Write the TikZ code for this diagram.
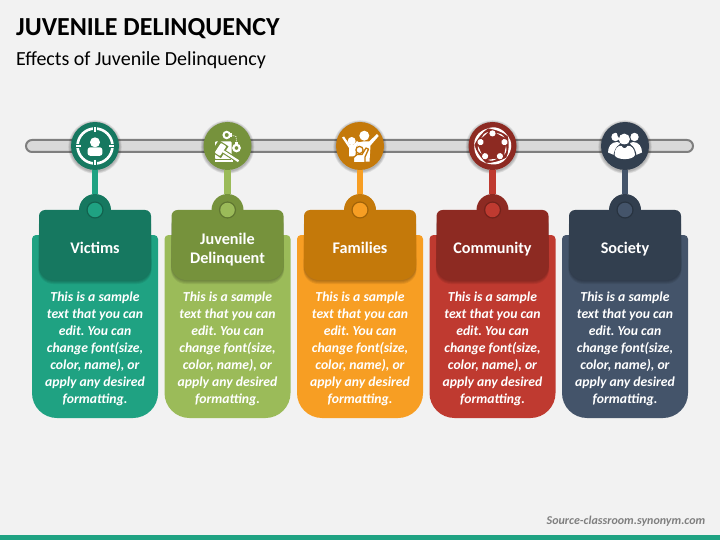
\documentclass[tikz,border=0pt]{standalone}
\usepackage{fontspec}
\setmainfont{Carlito}
\definecolor{pagebg}{HTML}{F2F2F2}
\definecolor{barfill}{HTML}{D9D9D9}
\definecolor{barline}{HTML}{7F7F7F}
\definecolor{tealL}{HTML}{1FA282}
\definecolor{tealD}{HTML}{167860}
\definecolor{greenL}{HTML}{9BBB59}
\definecolor{greenD}{HTML}{76923C}
\definecolor{orangeL}{HTML}{F79E23}
\definecolor{orangeD}{HTML}{C4790A}
\definecolor{redL}{HTML}{BF3A30}
\definecolor{redD}{HTML}{8D2A22}
\definecolor{navyL}{HTML}{44546A}
\definecolor{navyD}{HTML}{323F4F}
\tikzset{
  hubnode/.style={circle,minimum size=48pt,inner sep=0pt},
  bumpnode/.style={circle,minimum size=32pt,inner sep=0pt},
  dotnode/.style={circle,minimum size=14.5pt,inner sep=0pt},
  labelnode/.style={text=white,font=\fontsize{16.2}{19}\selectfont\bfseries,align=center,inner sep=0pt},
  bodynode/.style={text=white,font=\fontsize{13.7}{16.9}\selectfont\itshape\bfseries\frenchspacing,align=center,inner sep=0pt},
  stemline/.style={line width=6.5pt},
  ico/.style={fill=white,draw=none},
}
\newcommand{\softshadow}[3]{% radius, centre x, centre y
  \foreach \k in {4,3,2,1}{\fill[black,opacity=0.07] (#2,#3+1) circle[radius=#1+\k*0.7];}
}
\newcommand{\cardblock}[6]{% id, cx, light, dark, label, icon
  \softshadow{24}{#2}{146}
  \node[hubnode,fill=#4] (hub#1) at (#2,146) {};
  \fill[#3,rounded corners=4pt] (#2-63,235) -- (#2+63,235) [rounded corners=25pt] -- (#2+63,418) -- (#2-63,418) [rounded corners=4pt] -- cycle;
  \node[bumpnode,fill=#4] (bump#1) at (#2,210) {};
  \foreach \k in {4,3,2,1}{\fill[black,opacity=0.07,rounded corners=6pt] (#2-56,218) -- (#2+56,218) [rounded corners=15pt] -- (#2+56+\k*0.2,280+\k) -- (#2-56-\k*0.2,280+\k) [rounded corners=6pt] -- cycle;}
  \fill[#4,rounded corners=6pt] (#2-56,210) -- (#2+56,210) [rounded corners=15pt] -- (#2+56,280) -- (#2-56,280) [rounded corners=6pt] -- cycle;
  \draw[stemline,#3] (hub#1.south) -- (bump#1.north);
  \fill[black,opacity=0.18] (#2,210) circle[radius=8.6];
  \node[dotnode,fill=#3] (dot#1) at (#2,210) {};
  \begin{scope}[shift={(#2,146)}] #6{#4} \end{scope}
  \node[bodynode] (body#1) at (#2,349) {This is a sample\\text that you can\\edit. You can\\change font(size,\\color, name), or\\apply any desired\\formatting.};
  \node[labelnode] (label#1) at (#2,250) {\strut #5\strut};
}
\newcommand{\iconvictim}[1]{
  \draw[white,line width=2.6pt] (0,0) circle[radius=17.5];
  \foreach \a/\b in {0/-1,0/1,-1/0,1/0}{
    \draw[#1,line width=3.4pt] (\a*16,\b*16) -- (\a*20,\b*20);
    \draw[white,line width=1.2pt] (\a*14,\b*14) -- (\a*19,\b*19);
  }
  \fill[ico] (0,-3.7) circle[radius=5];
  \fill[ico,rounded corners=2.6pt] (-7.4,9.8) -- (-7.4,1.3) -- (7.4,1.3) -- (7.4,9.8) -- cycle;
}
\newcommand{\iconjustice}[1]{
  \fill[ico,rounded corners=0.8pt] (-12.5,-4.5) -- (4,-4.5) -- (4,13) -- (-12.5,13) -- cycle;
  \fill[ico] (-13,13) -- (5,13) -- (5,15.7) -- (-13,15.7) -- cycle;
  \draw[#1,line width=0.7pt] (-12.5,13.3) -- (3,13.3);
  \begin{scope}[shift={(-7,3.5)},rotate=-33]
    \fill[#1] (-6.5,-7) rectangle (5,7);
    \fill[#1] (3,-2.2) rectangle (23,2.2);
    \fill[ico,rounded corners=0.8pt] (-3.2,-5.8) rectangle (3.2,5.8);
    \fill[ico] (3,-1.1) rectangle (21.5,1.1);
  \end{scope}
  \draw[white,line width=2pt] (-0.8,-11) circle[radius=3.2];
  \draw[white,line width=2.2pt] (9,2) circle[radius=3.2];
  \fill[ico] (1.6,-13) rectangle (4,-9);
  \fill[ico] (7.6,-4) rectangle (10.4,-0.8);
  \draw[white,line width=0.7pt,dash pattern=on 1pt off 1pt] (4,-11) -- (8.5,-9.5) -- (9,-4);
}
\newcommand{\iconfamily}[1]{
  \fill[ico] (4.3,-10.3) circle[radius=5];
  \fill[ico] (-8.3,-5) circle[radius=4];
  \fill[ico] (17,-12) -- (18.7,-10) -- (10.5,-0.5) -- (9.5,15.7) -- (-3,15.7) -- (-3,1) -- (-2,-3.5) -- (3,-4.5) -- (9,-4.5) -- cycle;
  \draw[#1,line width=1pt] (-2.2,-4) -- (-5.5,1);
  \fill[ico] (-18,-8.5) -- (-16,-9.5) -- (-10.5,-1.5) -- (-6,-1.5) -- (-3,-5) -- (-1,-3.5) -- (-4,1.5) -- (-4.5,10.5) -- (-11,10.5) -- (-11,2) -- cycle;
  \draw[#1,line width=1.3pt,fill=white] (-0.5,4) circle[radius=3.6];
  \draw[#1,line width=1.3pt,fill=white,line join=round] (-6.5,17) -- (-6.5,11.5) -- (-3,8.5) -- (2,8.5) -- (6,2) -- (8.5,3.2) -- (5,11) -- (5,17) -- cycle;
  \fill[#1] (-9,15.75) rectangle (10.5,18);
}
\newcommand{\iconcommunity}[1]{
  \foreach \i in {0,...,4}{
    \begin{scope}[rotate=72*\i]
      \fill[ico] (0,-12.6) circle[radius=3.1];
      \fill[ico] (-5,-17.8) .. controls (2,-20.2) and (10,-18.2) .. (15.5,-9.6)
        .. controls (10.5,-14) and (3,-16.5) .. (-5,-17.8) -- cycle;
      \fill[ico] (4,-13) .. controls (7,-13.2) and (10,-11.5) .. (12,-8.5)
        .. controls (9,-10) and (7,-11) .. (4,-13) -- cycle;
    \end{scope}
  }
}
\newcommand{\iconsociety}[1]{
  \fill[ico] (-9.5,-9) circle[radius=4.2];
  \fill[ico] (9.5,-9) circle[radius=4.2];
  \fill[ico] (-8,-4) .. controls (-14,-4) and (-17,1) .. (-17,6.5) -- (-11,9) -- (-5,-3) -- cycle;
  \fill[ico] (8,-4) .. controls (14,-4) and (17,1) .. (17,6.5) -- (11,9) -- (5,-3) -- cycle;
  \fill[#1] (-1,-13) circle[radius=7];
  \fill[ico] (-0.7,-6.8) circle[radius=5.6];
  \path[fill=#1] (-12,15) .. controls (-12,5) and (-8,-3) .. (-2,-1.5) -- (2,-1.5) .. controls (8,-3) and (12,5) .. (12,15) -- cycle;
  \fill[ico] (-10.5,9) .. controls (-10.5,3) and (-7,-1) .. (-3.5,-0.2) .. controls (-2,3) and (1,3) .. (2.5,-0.2) .. controls (6,-1) and (10,3) .. (10,9) .. controls (8,14.5) and (-8.5,14.5) .. (-10.5,9) -- cycle;
}
\begin{document}
\begin{tikzpicture}[x=1pt,y=-1pt]
\useasboundingbox (0,0) rectangle (720,540);
\fill[pagebg] (0,0) rectangle (720,540);
\fill[tealL] (0,535) rectangle (720,540);
\node[anchor=west,inner sep=0pt,font=\fontsize{26}{30}\selectfont\bfseries] (title) at (16,29) {JUVENILE DELINQUENCY};
\node[anchor=west,inner sep=0pt,font=\fontsize{20}{24}\selectfont] (subtitle) at (16,60) {Effects of Juvenile Delinquency};
\node[draw=barline,fill=barfill,line width=2pt,rounded corners=6pt,minimum width=667pt,minimum height=12pt,inner sep=0pt] (bar) at (359.5,146) {};
\cardblock{1}{95}{tealL}{tealD}{Victims}{\iconvictim}
\cardblock{2}{227.5}{greenL}{greenD}{Juvenile\\Delinquent}{\iconjustice}
\cardblock{3}{360}{orangeL}{orangeD}{Families}{\iconfamily}
\cardblock{4}{492.5}{redL}{redD}{Community}{\iconcommunity}
\cardblock{5}{625}{navyL}{navyD}{Society}{\iconsociety}
\node[anchor=east,inner sep=0pt,text=barline,font=\fontsize{12}{14}\selectfont\itshape\bfseries] (source) at (705.5,521) {Source-classroom.synonym.com};
\end{tikzpicture}
\end{document}
